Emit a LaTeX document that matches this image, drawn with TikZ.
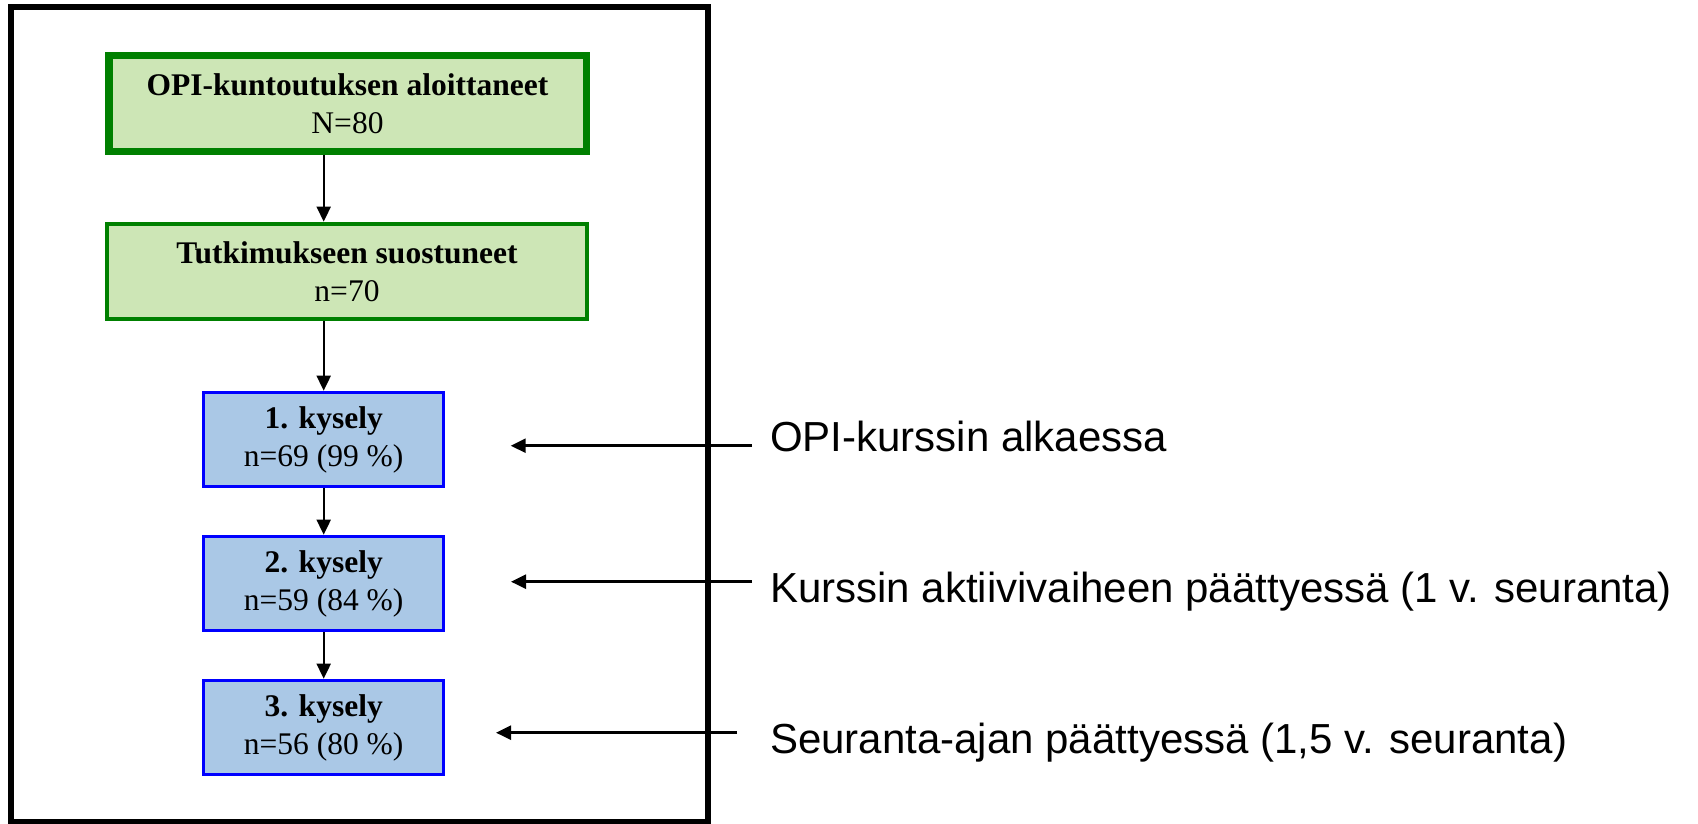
\documentclass[tikz,border=0pt]{standalone}
\usepackage{fontspec}
\setmainfont{Liberation Serif}
\newfontfamily\notefont{Liberation Sans}
\usetikzlibrary{arrows.meta}
\definecolor{boxgreen}{RGB}{0,128,0}
\definecolor{fillgreen}{RGB}{205,230,182}
\definecolor{boxblue}{RGB}{0,0,255}
\definecolor{fillblue}{RGB}{170,200,230}

\begin{document}
\begin{tikzpicture}[x=1pt,y=-1pt,
    greenbox/.style={draw=boxgreen,fill=fillgreen,line width=4pt,minimum width=480pt,
      minimum height=95.3pt,inner sep=0pt,align=center,font=\fontsize{31.5}{38}\selectfont},
    bluebox/.style={draw=boxblue,fill=fillblue,line width=3pt,minimum width=239.5pt,
      minimum height=94.6pt,inner sep=0pt,align=center,font=\fontsize{31.5}{38}\selectfont},
    flow/.style={line width=2pt,-{Triangle[length=15pt,width=14pt]}},
    note/.style={anchor=base west,inner sep=0pt,font=\notefont\fontsize{42}{50}\selectfont}]
  \useasboundingbox (0,0) rectangle (1698,823);
  \draw[line width=6pt] (11,7) rectangle (707.5,821.5);
  % flow of participants
  \node[greenbox,line width=7.5pt,minimum width=477.5pt,minimum height=95.7pt] (start) at (347.5,103.4)
    {\textbf{OPI-kuntoutuksen aloittaneet}\\N=80};
  \node[greenbox] (consent) at (347,271.3) {\textbf{Tutkimukseen suostuneet}\\n=70};
  \node[bluebox] (q1) at (323.7,439.5) {\textbf{1. kysely}\\n=69 (99 \%)};
  \node[bluebox] (q2) at (323.7,583.5) {\textbf{2. kysely}\\n=59 (84 \%)};
  \node[bluebox] (q3) at (323.7,727.5) {\textbf{3. kysely}\\n=56 (80 \%)};
  \draw[flow] (start.south -| q1) -- (consent.north -| q1);
  \draw[flow] (consent.south -| q1) -- (q1);
  \draw[flow] (q1) -- (q2);
  \draw[flow] (q2) -- (q3);
  % time points
  \node[note] (when1) at (770,451) {OPI-kurssin alkaessa};
  \node[note] (when2) at (770,602.7) {Kurssin aktiivivaiheen päättyessä (1 v. seuranta)};
  \node[note] (when3) at (770,753) {Seuranta-ajan päättyessä (1,5 v. seuranta)};
  \coordinate (from1) at (752,445.7);
  \coordinate (to1) at (510.7,445.7);
  \coordinate (from2) at (752,581.7);
  \coordinate (to2) at (511,581.7);
  \coordinate (from3) at (737,732.7);
  \coordinate (to3) at (496,732.7);
  \draw[flow,line width=2.5pt] (from1) -- (to1);
  \draw[flow,line width=2.5pt] (from2) -- (to2);
  \draw[flow,line width=2.5pt] (from3) -- (to3);
\end{tikzpicture}
\end{document}
